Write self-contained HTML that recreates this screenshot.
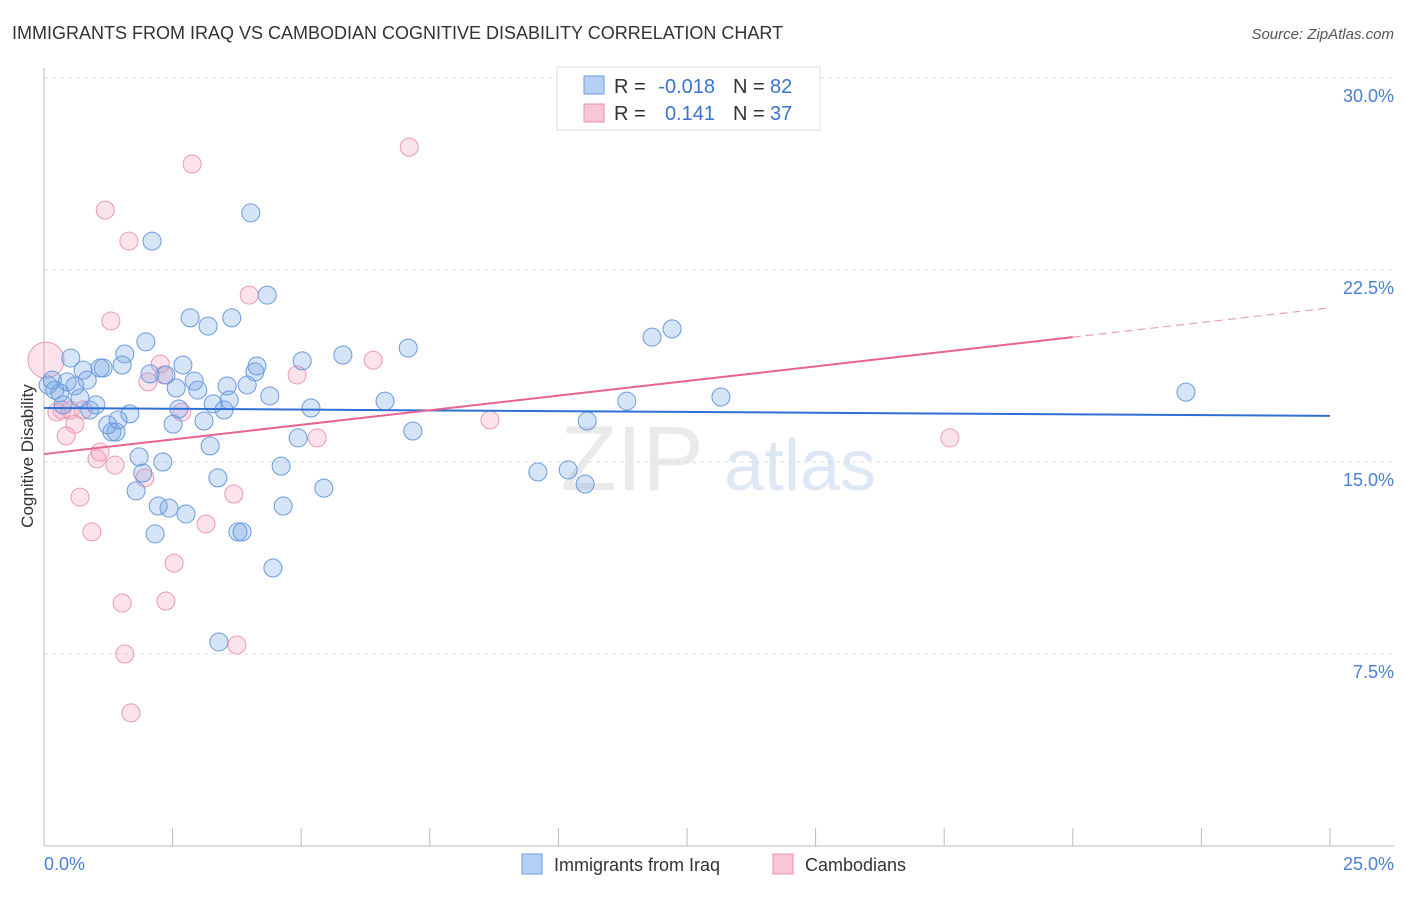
<!DOCTYPE html>
<html><head><meta charset="utf-8">
<style>
body{margin:0;background:#fff;font-family:"Liberation Sans",sans-serif;}
svg text{font-family:"Liberation Sans",sans-serif;}
</style></head>
<body>
<svg id="chart" width="1406" height="892" xmlns="http://www.w3.org/2000/svg">
<text x="12" y="39" font-size="18" fill="#333">IMMIGRANTS FROM IRAQ VS CAMBODIAN COGNITIVE DISABILITY CORRELATION CHART</text>
<text x="1394" y="39" font-size="15" fill="#555" text-anchor="end" font-style="italic">Source: ZipAtlas.com</text>
<g id="grid"></g>
<g>
<text x="632" y="490" font-size="92" fill="#ddd" font-family="Liberation Serif" text-anchor="middle" opacity="0.6">ZIP</text>
<text x="800" y="490" font-size="72" fill="#c8d8f0" text-anchor="middle" opacity="0.6">atlas</text>
</g>
<g id="points"></g>
<g id="trends"></g>
<text transform="translate(33,456) rotate(-90)" font-size="17" fill="#333" text-anchor="middle">Cognitive Disability</text>
<text x="44" y="870" font-size="18" fill="#4a7fd6">0.0%</text>
<text x="1394" y="870" font-size="18" fill="#4a7fd6" text-anchor="end">25.0%</text>
<g>
<rect x="557" y="67" width="263" height="63" fill="#fff" stroke="#ddd"/>
<rect x="584" y="76" width="20" height="18" fill="#b5d0f5" stroke="#6a9be0"/>
<rect x="584" y="104" width="20" height="18" fill="#f9c6d5" stroke="#ea8fae"/>
<text x="614" y="93" font-size="20" fill="#333">R =</text>
<text x="715" y="93" font-size="20" fill="#3a73d0" text-anchor="end">-0.018</text>
<text x="733" y="93" font-size="20" fill="#333">N =</text>
<text x="770" y="93" font-size="20" fill="#3a73d0">82</text>
<text x="614" y="120" font-size="20" fill="#333">R =</text>
<text x="715" y="120" font-size="20" fill="#3a73d0" text-anchor="end">0.141</text>
<text x="733" y="120" font-size="20" fill="#333">N =</text>
<text x="770" y="120" font-size="20" fill="#3a73d0">37</text>
</g>
<g>
<rect x="522" y="854" width="20" height="20" fill="#b5d0f5" stroke="#6a9be0"/>
<text x="554" y="871" font-size="18" fill="#333">Immigrants from Iraq</text>
<rect x="773" y="854" width="20" height="20" fill="#f9c6d5" stroke="#ea8fae"/>
<text x="805" y="871" font-size="18" fill="#333">Cambodians</text>
</g>
</svg>
<script>
const yTicks=[7.5,15,22.5,30];
const yTickLabels=["7.5%","15.0%","22.5%","30.0%"];
const xTicks=[0,2.5,5,7.5,10,12.5,15,17.5,20,22.5,25];
const iraqX=[0.08,0.16,0.21,0.31,0.37,0.45,0.52,0.60,0.70,0.76,0.84,0.89,1.01,1.09,1.15,1.24,1.32,1.40,1.44,1.52,1.57,1.67,1.79,1.85,1.92,1.98,2.06,2.10,2.16,2.22,2.31,2.37,2.43,2.51,2.57,2.62,2.70,2.76,2.84,2.92,2.99,3.11,3.19,3.23,3.29,3.38,3.40,3.50,3.56,3.60,3.65,3.77,3.85,3.95,4.02,4.10,4.14,4.34,4.39,4.45,4.61,4.65,4.94,5.02,5.19,5.44,5.81,6.63,7.08,7.17,9.60,10.19,10.52,10.56,11.33,11.82,12.21,13.16,22.20];
const iraqY=[18.01,18.20,17.81,17.70,17.23,18.13,19.06,17.97,17.50,18.59,18.20,17.03,17.23,18.67,18.67,16.45,16.17,16.17,16.64,18.79,19.22,16.88,13.87,15.20,14.57,19.69,18.44,23.63,12.19,13.28,15.00,18.40,13.20,16.48,17.89,17.07,18.79,12.97,20.63,18.16,17.81,16.60,20.31,15.63,17.27,14.38,7.97,17.03,17.97,17.42,20.63,12.27,12.27,18.01,24.73,18.52,18.75,21.52,17.58,10.86,14.84,13.28,15.94,18.95,17.11,13.98,19.18,17.38,19.45,16.21,14.61,14.69,14.14,16.60,17.38,19.88,20.20,17.54,17.73];
const cambX=[0.04,0.25,0.35,0.43,0.51,0.60,0.70,0.76,0.93,1.03,1.09,1.19,1.30,1.38,1.52,1.57,1.65,1.69,1.96,2.02,2.26,2.33,2.37,2.53,2.68,2.88,3.15,3.69,3.75,3.99,4.92,5.31,6.40,7.10,8.67,17.61];
const cambY=[18.98,16.95,17.03,16.02,17.03,16.48,13.63,17.03,12.27,15.12,15.39,24.84,20.51,14.88,9.49,7.50,23.63,5.20,14.38,18.13,18.83,18.40,9.57,11.05,16.95,26.64,12.58,13.75,7.85,21.52,18.40,15.94,18.98,27.30,16.64,15.94];
const iraqTrend=[17.11,16.80];
const cambTrend=[15.31,21.02];
const NS="http://www.w3.org/2000/svg";
const X=v=>44+v*(1286/25), Y=v=>846-v*(768/30);
function mk(t,a,p){const e=document.createElementNS(NS,t);for(const k in a)e.setAttribute(k,a[k]);p.appendChild(e);return e;}
const grid=document.getElementById('grid');
yTicks.forEach((t,i)=>{
 const l=mk('line',{x1:44,x2:1394,y1:Y(t),y2:Y(t),stroke:'#ddd','stroke-dasharray':'4,4'},grid);
 
 
 const tx=mk('text',{x:1394,y:Y(t)+24,'font-size':18,fill:'#4a7fd6','text-anchor':'end'},grid);
 tx.textContent=yTickLabels[i];
 
 
});
const ax=mk('line',{x1:44,x2:1394,y1:846,y2:846,stroke:'#bbb'},grid);


const ay=mk('line',{x1:44,x2:44,y1:68,y2:846,stroke:'#bbb'},grid);


xTicks.forEach(t=>{
 const l=mk('line',{x1:X(t),x2:X(t),y1:828,y2:846,stroke:'#bbb'},grid);
 
 
});
const pts=document.getElementById('points');
cambX.forEach((x,i)=>{
 const c=mk('circle',{cx:X(x),cy:Y(cambY[i]),r:i===0?18:9,fill:'rgba(244,160,185,0.3)',stroke:'#ea9ab5','stroke-width':1},pts);
 
 
});
iraqX.forEach((x,i)=>{
 const c=mk('circle',{cx:X(x),cy:Y(iraqY[i]),r:9,fill:'rgba(120,165,230,0.3)',stroke:'#6a9be0','stroke-width':1},pts);
 
 
});
const tr=document.getElementById('trends');
const b=mk('line',{x1:X(0),y1:Y(iraqTrend[0]),x2:X(25),y2:Y(iraqTrend[1]),stroke:'#2f6fd6','stroke-width':2},tr);


const cy20=cambTrend[0]+(cambTrend[1]-cambTrend[0])*20/25;
const p1=mk('line',{x1:X(0),y1:Y(cambTrend[0]),x2:X(20),y2:Y(cy20),stroke:'#e8638f','stroke-width':2},tr);


const p2=mk('line',{x1:X(20),y1:Y(cy20),x2:X(25),y2:Y(cambTrend[1]),stroke:'#e8a0b8','stroke-width':1.2,'stroke-dasharray':'8,5'},tr);


</script>
</body></html>
